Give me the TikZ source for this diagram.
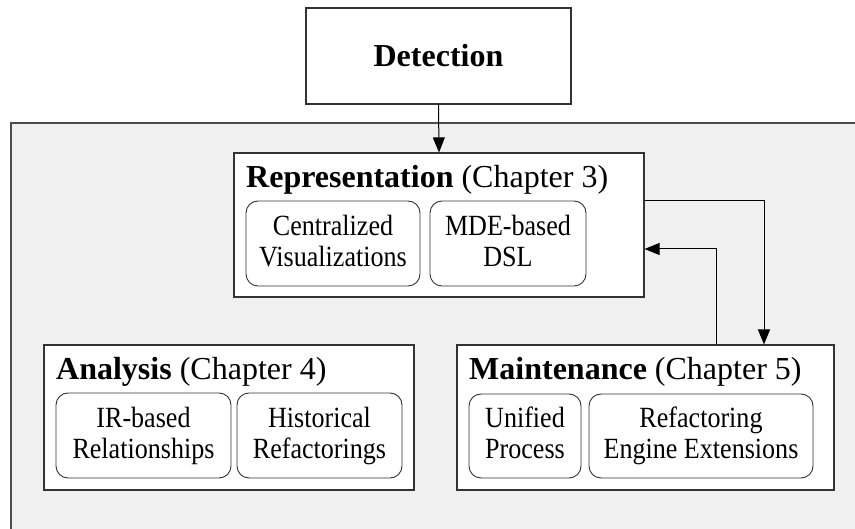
\documentclass[tikz,border=0pt]{standalone}
\usepackage{fontspec}
\setmainfont{Liberation Serif}
\newfontfamily\narrowserif{Liberation Serif}[FakeStretch=0.89]
\usetikzlibrary{arrows.meta}
\newcommand\twolines[2]{#1\\#2\vphantom{g}}
\begin{document}
\begin{tikzpicture}[x=1pt,y=-1pt,
  panel/.style={draw=black!70,line width=1.2pt,fill=black!6},
  detbox/.style={draw=black!80,line width=1.1pt,fill=white,inner sep=0pt,
    font=\fontsize{32}{36}\selectfont\bfseries},
  stagebox/.style={draw=black!80,line width=1.1pt,fill=white,inner sep=0pt},
  stagetitle/.style={anchor=base west,inner sep=0pt,font=\fontsize{32}{36}\selectfont},
  techbox/.style={draw=black!80,line width=0.9pt,fill=white,rounded corners=12pt,
    inner sep=0pt,align=center,font=\fontsize{29.3}{31}\narrowserif},
  flow/.style={line width=1pt,-{Triangle[length=15pt,width=12pt]}}
]
\useasboundingbox (0,0) rectangle (855,529);

% grey working area
\path[panel] (11,123) rectangle (862,540);

% detection step
\node[detbox,minimum width=265pt,minimum height=96pt] (det) at (438.5,56) {Detection};

% three chapters
\node[stagebox,minimum width=410pt,minimum height=144pt] (rep) at (439,225) {};
\node[stagebox,minimum width=370pt,minimum height=145pt] (ana) at (229,417.5) {};
\node[stagebox,minimum width=377pt,minimum height=145pt] (mnt) at (645.5,417.5) {};

\node[stagetitle] (reptitle) at (246,188) {\textbf{Representation} (Chapter 3)};
\node[stagetitle] (anatitle) at (56,380) {\textbf{Analysis} (Chapter 4)};
\node[stagetitle] (mnttitle) at (469,380) {\textbf{Maintenance} (Chapter 5)};

% contributions inside each chapter
\node[techbox,minimum width=174pt,minimum height=85pt] (cen) at (333,243.5) {\twolines{Centralized}{Visualizations}};
\node[techbox,minimum width=156pt,minimum height=85pt] (mde) at (508,243.5) {\twolines{MDE-based}{DSL}};
\node[techbox,minimum width=175pt,minimum height=85pt] (ir)  at (143.5,435.5) {\twolines{IR-based}{Relationships}};
\node[techbox,minimum width=165pt,minimum height=85pt] (his) at (319.5,435.5) {\twolines{Historical}{Refactorings}};
\node[techbox,minimum width=112pt,minimum height=84pt] (uni) at (525,436) {\twolines{Unified}{Process}};
\node[techbox,minimum width=224pt,minimum height=84pt] (ref) at (701,436) {\twolines{Refactoring}{Engine Extensions}};

% connectors
\coordinate (outturn) at (764,201);
\coordinate (backturn) at (716,249);
\draw[flow] (det.south) -- (rep.north);
\draw[flow] (rep.east |- outturn) -- (outturn) -- (outturn |- mnt.north);
\draw[flow] (backturn |- mnt.north) -- (backturn) -- (rep.east |- backturn);
\end{tikzpicture}
\end{document}
